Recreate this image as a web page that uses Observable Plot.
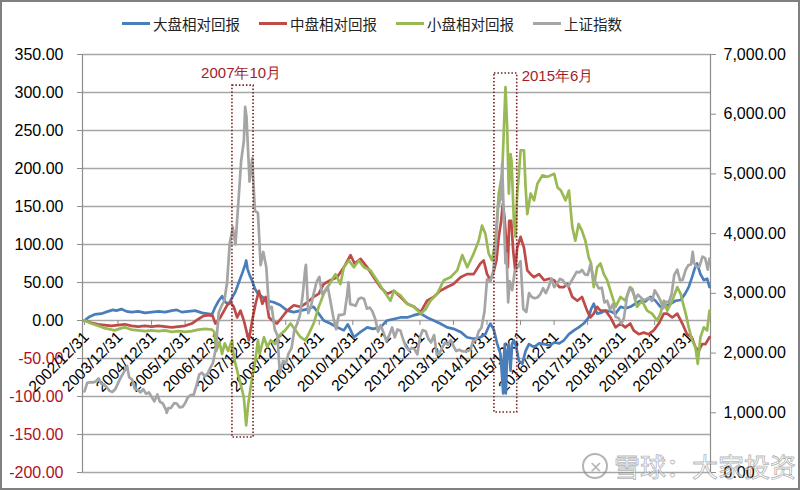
<!DOCTYPE html>
<html><head><meta charset="utf-8">
<script src="https://cdn.jsdelivr.net/npm/d3@7"></script>
<script src="https://cdn.jsdelivr.net/npm/@observablehq/plot@0.6"></script>
<style>
html,body{margin:0;padding:0;background:#fff;}
#wrap{position:relative;width:800px;height:490px;overflow:hidden;background:#fff;font-family:"Liberation Sans",Arial,sans-serif;}
#legend{position:absolute;left:122px;top:11px;height:24px;display:flex;align-items:center;gap:19px;font-family:"Noto Sans CJK SC",sans-serif;font-size:14.5px;color:#222;}
.item{display:flex;align-items:center;}
.sw{width:28px;height:3px;margin-right:3px;}
#chart{position:absolute;left:0;top:40px;}
#border{position:absolute;left:0;top:0;width:800px;height:490px;border:2px solid #808080;pointer-events:none;box-sizing:border-box;}
#wm{position:absolute;left:582px;top:447px;display:flex;align-items:center;font-family:"Noto Sans CJK SC",sans-serif;font-size:26px;color:rgba(255,255,255,0.55);-webkit-text-stroke:0.8px rgba(110,110,110,0.55);pointer-events:none;}
#wm .logo{width:22px;height:22px;border:2px solid rgba(130,130,130,0.6);border-radius:50%;margin-right:6px;font-size:16px;line-height:22px;text-align:center;-webkit-text-stroke:0;color:rgba(130,130,130,0.6);}
</style></head>
<body>
<div id="wrap">
  <div id="legend"></div>
  <div id="chart"></div>
  <div id="wm"><span class="logo">✕</span><span>雪球：大家投资</span></div>
  <div id="border"></div>
</div>
<script>
// ---- data (decimal year, value) ----
const seriesNames = ["大盘相对回报", "中盘相对回报", "小盘相对回报", "上证指数"];
const seriesColors = ["#4a7ebb", "#be4b48", "#98b954", "#a5a5a5"];

const largeRel = [[2003.0,0],[2003.15,5],[2003.3,8],[2003.5,9],[2003.7,12],[2003.85,14],[2003.95,13],[2004.1,15],[2004.25,12],[2004.4,11],[2004.6,12],[2004.8,10],[2005.0,11],[2005.2,12],[2005.4,11],[2005.6,13],[2005.75,14],[2005.9,11],[2006.1,12],[2006.3,13],[2006.5,10],[2006.65,9],[2006.8,8],[2006.9,18],[2007.0,26],[2007.1,32],[2007.2,24],[2007.3,22],[2007.4,30],[2007.5,38],[2007.6,50],[2007.7,62],[2007.78,72],[2007.82,79],[2007.86,68],[2007.92,60],[2008.0,52],[2008.08,42],[2008.17,35],[2008.3,31],[2008.45,26],[2008.64,24],[2008.84,20],[2009.04,13],[2009.24,11],[2009.44,13],[2009.64,15],[2009.83,18],[2009.98,9],[2010.13,0],[2010.33,-4],[2010.53,-9],[2010.73,-13],[2010.85,-5],[2011.03,-22],[2011.23,-15],[2011.43,-9],[2011.6,-11],[2011.82,-9],[2012.02,0],[2012.22,2],[2012.42,4],[2012.62,4],[2012.82,7],[2013.02,9],[2013.21,4],[2013.41,0],[2013.6,-4],[2013.81,-9],[2014.0,-11],[2014.21,-15],[2014.4,-22],[2014.6,-24],[2014.8,-22],[2014.95,-18],[2015.05,-8],[2015.1,-4],[2015.2,-12],[2015.3,-30],[2015.4,-44],[2015.45,-75],[2015.48,-96],[2015.5,-50],[2015.53,-31],[2015.56,-96],[2015.6,-44],[2015.65,-31],[2015.7,-66],[2015.75,-30],[2015.8,-26],[2015.87,-35],[2015.95,-53],[2016.05,-57],[2016.15,-40],[2016.25,-31],[2016.4,-35],[2016.55,-30],[2016.7,-31],[2016.85,-33],[2017.0,-29],[2017.15,-30],[2017.29,-26],[2017.44,-18],[2017.59,-13],[2017.73,-9],[2017.88,-4],[2018.03,4],[2018.1,15],[2018.18,22],[2018.28,9],[2018.38,10],[2018.53,13],[2018.68,12],[2018.83,9],[2018.98,18],[2019.12,16],[2019.27,18],[2019.42,22],[2019.57,26],[2019.72,25],[2019.87,31],[2020.02,26],[2020.17,18],[2020.32,19],[2020.47,22],[2020.62,26],[2020.77,27],[2020.9,35],[2021.01,44],[2021.11,57],[2021.2,70],[2021.26,75],[2021.36,61],[2021.46,53],[2021.56,55],[2021.63,44]];

const midRel = [[2003.0,0],[2003.2,-3],[2003.4,-5],[2003.6,-6],[2003.8,-7],[2004.0,-6],[2004.2,-5],[2004.4,-7],[2004.6,-8],[2004.8,-7],[2005.0,-8],[2005.2,-7],[2005.4,-8],[2005.6,-9],[2005.8,-8],[2006.0,-7],[2006.2,-4],[2006.4,2],[2006.55,6],[2006.7,7],[2006.82,6],[2006.9,-4],[2007.05,4],[2007.25,20],[2007.35,24],[2007.45,18],[2007.55,4],[2007.65,13],[2007.75,0],[2007.85,-18],[2007.9,-26],[2008.0,0],[2008.1,22],[2008.2,39],[2008.3,22],[2008.4,31],[2008.5,4],[2008.6,0],[2008.74,-4],[2008.88,4],[2009.04,13],[2009.24,20],[2009.44,18],[2009.64,24],[2009.83,31],[2009.98,35],[2010.13,48],[2010.33,53],[2010.53,57],[2010.73,70],[2010.93,86],[2011.05,75],[2011.23,81],[2011.43,70],[2011.62,57],[2011.82,44],[2012.02,35],[2012.22,39],[2012.42,31],[2012.62,22],[2012.82,18],[2013.02,11],[2013.21,26],[2013.41,31],[2013.6,39],[2013.81,44],[2014.0,48],[2014.21,57],[2014.4,61],[2014.6,61],[2014.8,75],[2014.9,79],[2015.0,61],[2015.1,53],[2015.2,65],[2015.28,79],[2015.35,110],[2015.42,131],[2015.47,153],[2015.52,136],[2015.58,100],[2015.62,70],[2015.66,131],[2015.72,131],[2015.78,92],[2015.84,66],[2015.9,96],[2016.0,110],[2016.1,96],[2016.2,66],[2016.3,61],[2016.4,57],[2016.55,61],[2016.7,53],[2016.85,55],[2017.0,53],[2017.15,44],[2017.29,44],[2017.4,48],[2017.54,31],[2017.69,26],[2017.83,31],[2017.98,13],[2018.08,4],[2018.18,9],[2018.28,18],[2018.38,13],[2018.53,13],[2018.68,4],[2018.83,-9],[2018.98,-4],[2019.12,-9],[2019.27,-4],[2019.37,-13],[2019.52,-18],[2019.67,-16],[2019.82,-18],[2019.97,-13],[2020.12,-4],[2020.27,9],[2020.37,9],[2020.52,4],[2020.67,9],[2020.82,-4],[2020.96,-18],[2021.1,-22],[2021.21,-35],[2021.31,-40],[2021.41,-31],[2021.51,-31],[2021.63,-22]];

const smallRel = [[2003.0,0],[2003.2,-4],[2003.4,-7],[2003.6,-10],[2003.8,-12],[2003.9,-13],[2004.1,-10],[2004.2,-9],[2004.4,-12],[2004.6,-13],[2004.8,-14],[2005.0,-13],[2005.2,-14],[2005.4,-13],[2005.6,-15],[2005.8,-14],[2006.0,-15],[2006.2,-14],[2006.4,-12],[2006.6,-11],[2006.8,-12],[2006.87,-15],[2006.93,-40],[2007.02,-28],[2007.1,-44],[2007.18,-30],[2007.28,-40],[2007.4,-26],[2007.45,-48],[2007.55,-66],[2007.65,-83],[2007.75,-101],[2007.82,-138],[2007.88,-110],[2007.97,-83],[2008.08,-57],[2008.17,-26],[2008.22,-44],[2008.35,-22],[2008.45,-35],[2008.55,-26],[2008.68,-31],[2008.84,-18],[2008.98,-13],[2009.14,-4],[2009.29,-13],[2009.44,-22],[2009.58,-26],[2009.68,-18],[2009.83,-4],[2009.98,18],[2010.13,35],[2010.33,50],[2010.48,61],[2010.63,48],[2010.73,70],[2010.88,79],[2011.03,70],[2011.18,79],[2011.33,70],[2011.52,66],[2011.72,53],[2011.92,39],[2012.12,26],[2012.22,39],[2012.42,33],[2012.62,22],[2012.82,18],[2013.02,9],[2013.17,15],[2013.31,26],[2013.51,35],[2013.71,53],[2013.91,57],[2014.11,66],[2014.26,86],[2014.41,70],[2014.6,88],[2014.75,105],[2014.85,125],[2014.95,114],[2015.05,88],[2015.15,79],[2015.25,105],[2015.35,167],[2015.45,193],[2015.5,250],[2015.55,307],[2015.6,254],[2015.65,167],[2015.7,219],[2015.73,210],[2015.8,131],[2015.85,110],[2015.9,167],[2015.95,193],[2016.0,224],[2016.1,224],[2016.15,175],[2016.2,140],[2016.3,167],[2016.4,158],[2016.5,180],[2016.65,191],[2016.8,189],[2017.0,193],[2017.1,175],[2017.2,171],[2017.34,158],[2017.44,171],[2017.54,123],[2017.63,105],[2017.73,127],[2017.83,118],[2017.93,105],[2018.03,83],[2018.1,75],[2018.18,44],[2018.28,70],[2018.38,75],[2018.48,61],[2018.58,53],[2018.68,39],[2018.83,18],[2018.98,31],[2019.12,26],[2019.27,44],[2019.37,35],[2019.47,18],[2019.62,26],[2019.77,13],[2019.92,9],[2020.07,0],[2020.17,9],[2020.27,26],[2020.37,13],[2020.52,26],[2020.67,44],[2020.77,35],[2020.92,9],[2021.01,-9],[2021.11,-26],[2021.21,-35],[2021.28,-57],[2021.36,-22],[2021.46,-9],[2021.56,-13],[2021.63,13]];

const shIndex = [[2003.0,1357],[2003.08,1500],[2003.17,1512],[2003.25,1510],[2003.33,1521],[2003.42,1576],[2003.5,1487],[2003.58,1476],[2003.67,1421],[2003.75,1367],[2003.83,1348],[2003.92,1397],[2004.0,1497],[2004.08,1590],[2004.17,1675],[2004.27,1783],[2004.33,1595],[2004.42,1555],[2004.5,1399],[2004.58,1386],[2004.67,1342],[2004.75,1396],[2004.83,1320],[2004.92,1340],[2005.0,1266],[2005.08,1191],[2005.17,1306],[2005.25,1181],[2005.33,1159],[2005.42,1060],[2005.45,998],[2005.5,1080],[2005.58,1083],[2005.67,1162],[2005.75,1155],[2005.83,1092],[2005.92,1099],[2006.0,1161],[2006.08,1258],[2006.17,1299],[2006.25,1298],[2006.33,1440],[2006.42,1641],[2006.5,1672],[2006.58,1612],[2006.67,1658],[2006.75,1752],[2006.83,1837],[2006.92,2099],[2007.0,2675],[2007.08,2786],[2007.17,2881],[2007.25,3183],[2007.33,3841],[2007.42,4109],[2007.5,3820],[2007.58,4471],[2007.67,5218],[2007.75,5552],[2007.79,6124],[2007.83,5954],[2007.92,4871],[2008.0,5262],[2008.08,4383],[2008.17,4348],[2008.25,3473],[2008.33,3693],[2008.42,3433],[2008.5,2736],[2008.58,2775],[2008.67,2397],[2008.75,2293],[2008.82,1664],[2008.85,1728],[2008.92,1871],[2009.0,1821],[2009.08,1991],[2009.17,2082],[2009.25,2373],[2009.33,2477],[2009.42,2633],[2009.5,2959],[2009.58,3412],[2009.6,3478],[2009.67,2667],[2009.75,2779],[2009.83,2996],[2009.92,3195],[2010.0,3277],[2010.08,2989],[2010.17,3051],[2010.25,3110],[2010.33,2871],[2010.42,2592],[2010.5,2398],[2010.58,2638],[2010.67,2639],[2010.75,2656],[2010.83,2979],[2010.87,3186],[2010.92,2820],[2011.0,2808],[2011.08,2791],[2011.17,2905],[2011.25,2928],[2011.33,2911],[2011.42,2743],[2011.5,2762],[2011.58,2701],[2011.67,2568],[2011.75,2359],[2011.83,2468],[2011.92,2333],[2012.0,2199],[2012.08,2292],[2012.17,2428],[2012.25,2263],[2012.33,2396],[2012.42,2373],[2012.5,2225],[2012.58,2103],[2012.67,2047],[2012.75,2086],[2012.83,2069],[2012.92,1980],[2013.0,2269],[2013.08,2385],[2013.17,2366],[2013.25,2237],[2013.33,2178],[2013.42,2301],[2013.5,1979],[2013.58,1994],[2013.67,2098],[2013.75,2175],[2013.83,2141],[2013.92,2220],[2014.0,2116],[2014.08,2033],[2014.17,2056],[2014.25,2033],[2014.33,2026],[2014.42,2039],[2014.5,2048],[2014.58,2202],[2014.67,2217],[2014.75,2364],[2014.83,2420],[2014.92,2683],[2015.0,3235],[2015.08,3210],[2015.17,3310],[2015.25,3748],[2015.33,4442],[2015.42,4612],[2015.45,5178],[2015.5,4277],[2015.55,3507],[2015.58,3664],[2015.63,2850],[2015.67,3206],[2015.75,3053],[2015.83,3383],[2015.92,3445],[2016.0,3539],[2016.08,2738],[2016.17,2688],[2016.25,3004],[2016.33,2938],[2016.42,2917],[2016.5,2930],[2016.58,2979],[2016.67,3085],[2016.75,3005],[2016.83,3100],[2016.92,3250],[2017.0,3104],[2017.08,3159],[2017.17,3242],[2017.25,3223],[2017.33,3155],[2017.42,3117],[2017.5,3192],[2017.58,3273],[2017.67,3361],[2017.75,3349],[2017.83,3393],[2017.92,3317],[2018.0,3307],[2018.08,3481],[2018.17,3259],[2018.25,3169],[2018.33,3082],[2018.42,3095],[2018.5,2847],[2018.58,2876],[2018.67,2725],[2018.75,2821],[2018.83,2603],[2018.92,2588],[2019.0,2494],[2019.08,2585],[2019.17,2941],[2019.25,3091],[2019.33,3078],[2019.42,2899],[2019.5,2979],[2019.58,2933],[2019.67,2886],[2019.75,2905],[2019.83,2929],[2019.92,2872],[2020.0,3050],[2020.08,2977],[2020.17,2880],[2020.25,2750],[2020.33,2860],[2020.42,2852],[2020.5,2985],[2020.58,3310],[2020.67,3396],[2020.75,3218],[2020.83,3225],[2020.92,3392],[2021.0,3473],[2021.08,3483],[2021.13,3696],[2021.17,3509],[2021.25,3442],[2021.33,3447],[2021.42,3615],[2021.5,3591],[2021.58,3397],[2021.63,3580]];

const leftTicks = [-200,-150,-100,-50,0,50,100,150,200,250,300,350];
const rightTicks = [0,1000,2000,3000,4000,5000,6000,7000];
const xTickLabels = ["2002/12/31","2003/12/31","2004/12/31","2005/12/31","2006/12/31","2007/12/31","2008/12/31","2009/12/31","2010/12/31","2011/12/31","2012/12/31","2013/12/31","2014/12/31","2015/12/31","2016/12/31","2017/12/31","2018/12/31","2019/12/31","2020/12/31"];
const xDomainYears = [2002.94, 2021.66];
const leftDomain = [-200, 350];
const rightDomain = [0, 7000];

const noteLabels = ["2007年10月", "2015年6月"];
const noteX = [2007.67, 2017.1];
const noteY = [325, 322];
const boxX1 = [2007.41, 2015.22];
const boxX2 = [2008.04, 2015.9];
const boxTop = [309, 325];
const boxBottom = [-154, -121];

// ---- helpers ----
function toDate(t) {
  const y = Math.floor(t);
  const a = Date.UTC(y, 0, 1), b = Date.UTC(y + 1, 0, 1);
  return new Date(a + (t - y) * (b - a));
}
const k = (leftDomain[1] - leftDomain[0]) / (rightDomain[1] - rightDomain[0]);
const toLeft = g => leftDomain[0] + (g - rightDomain[0]) * k;
const fromLeft = v => rightDomain[0] + (v - leftDomain[0]) / k;
const rows = arr => arr.map(([t, v]) => ({date: toDate(t), value: v}));

const series = [largeRel, midRel, smallRel].map(rows);
const grayRows = shIndex.map(([t, v]) => ({date: toDate(t), value: toLeft(v)}));
const tickDates = xTickLabels.map(s => new Date(s.replace(/\//g, "-") + "T00:00:00Z"));
const notes = noteLabels.map((s, i) => ({text: s, date: toDate(noteX[i]), y: noteY[i]}));
const boxes = boxX1.map((x, i) => ({x1: toDate(x), x2: toDate(boxX2[i]), y1: boxTop[i], y2: boxBottom[i]}));

// legend
const legend = document.getElementById("legend");
seriesNames.forEach((n, i) => {
  const it = document.createElement("div");
  it.className = "item";
  it.innerHTML = `<span class="sw" style="background:${seriesColors[i]}"></span><span>${n}</span>`;
  legend.appendChild(it);
});

const fmt = d3.format(",.2f");
const negRed = "#b0101e";
const annotRed = "#a11d2b";

const chart = Plot.plot({
  width: 800,
  height: 450,
  marginLeft: 82,
  marginRight: 90,
  marginTop: 14,
  marginBottom: 18,
  style: {fontFamily: "'Liberation Sans', Arial, sans-serif", background: "transparent", color: "#000"},
  x: {type: "utc", domain: xDomainYears.map(toDate), axis: null},
  y: {domain: leftDomain, axis: null},
  marks: [
    Plot.ruleY(leftTicks, {stroke: "#a6a6a6", strokeWidth: 1.3}),
    Plot.ruleX(xDomainYears.map(toDate), {x: d => d, stroke: "#8c8c8c", strokeWidth: 1.2}),
    Plot.ruleX(tickDates, {x: d => d, y1: 0, y2: 0, insetBottom: -5, stroke: "#8c8c8c"}),
    Plot.axisY(leftTicks.filter(d => d >= 0), {anchor: "left", tickSize: 5, tickPadding: 14, tickFormat: d => d.toFixed(2), fontSize: 16, stroke: "#8c8c8c", fill: "#000", label: null}),
    Plot.axisY(leftTicks.filter(d => d < 0), {anchor: "left", tickSize: 5, tickPadding: 14, tickFormat: d => d.toFixed(2), fontSize: 16, stroke: "#8c8c8c", fill: negRed, label: null}),
    Plot.axisY(rightTicks.map(toLeft), {anchor: "right", tickSize: 5, tickPadding: 8, tickFormat: d => fmt(Math.round(fromLeft(d))), fontSize: 16, stroke: "#8c8c8c", fill: "#000", label: null}),
    Plot.text(tickDates, {x: d => d, y: 0, text: (d, i) => xTickLabels[i], rotate: -45, textAnchor: "end", lineAnchor: "middle", fontSize: 15.5, fill: "#000", dx: 2, dy: 14}),
    ...series.map((s, i) => Plot.line(s, {x: "date", y: "value", stroke: seriesColors[i], strokeWidth: 2.7})),
    Plot.line(grayRows, {x: "date", y: "value", stroke: seriesColors[3], strokeWidth: 2.7}),
    Plot.rect(boxes, {x1: "x1", x2: "x2", y1: "y1", y2: "y2", fill: "none", stroke: "#7a1a1a", strokeWidth: 1.6, strokeDasharray: "1.5 2"}),
    Plot.text(notes, {x: "date", y: "y", text: "text", fontSize: 15, fill: annotRed})
  ]
});
document.getElementById("chart").appendChild(chart);
</script>
</body></html>
